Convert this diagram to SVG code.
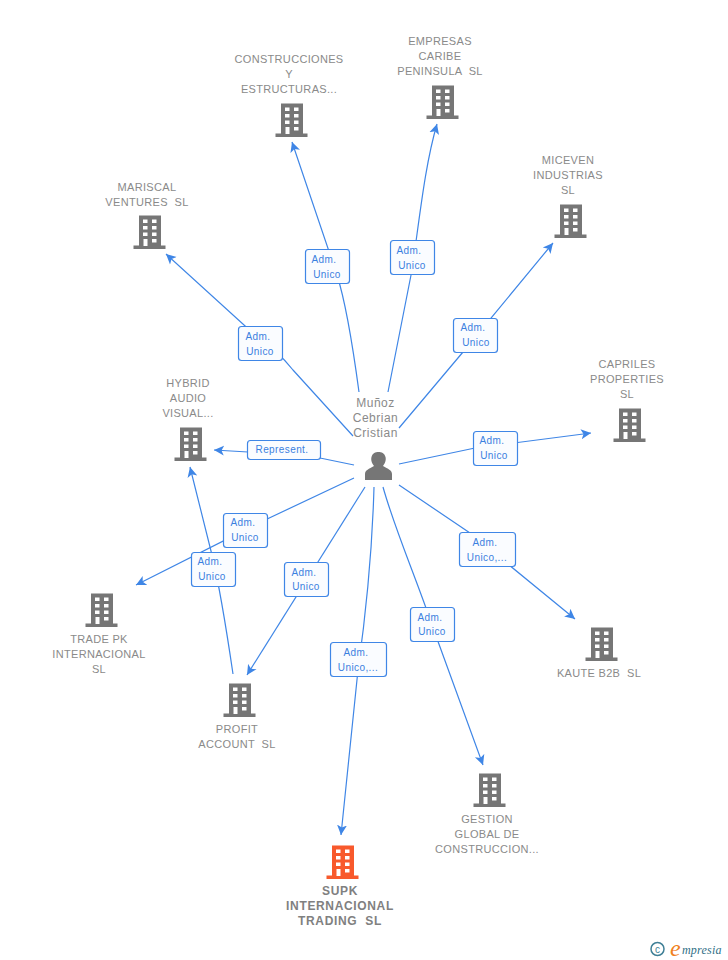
<svg xmlns="http://www.w3.org/2000/svg" width="728" height="960" viewBox="0 0 728 960">
<style>
text{font-family:"Liberation Sans",Arial,sans-serif}
.n{font-size:11px;fill:#8a8a8a;text-anchor:middle;letter-spacing:.32px}
.p{font-size:12px;fill:#8a8a8a;text-anchor:middle;letter-spacing:.5px}
.s{font-size:12px;font-weight:bold;fill:#808080;text-anchor:middle;letter-spacing:.65px}
.l{font-size:10px;fill:#3a80e0;text-anchor:middle;letter-spacing:.4px}
.b{fill:#fafcff;stroke:#3f86e6;stroke-width:1.2}
.c{fill:none;stroke:#3f86e6;stroke-width:1.2}
.g{fill:#767676}.o{fill:#f8592c}.w{fill:#fff}
</style>
<defs>
<marker id="a" viewBox="0 0 12 12" markerWidth="12" markerHeight="12" refX="10" refY="6" orient="auto" markerUnits="userSpaceOnUse"><path d="M10 6L0 1L2.500 6L0 11Z" fill="#3f86e6"/></marker>
<g id="h"><path d="M-10.500 0H11.500V30H16V33.500H-16V30H-10.500Z"/><path class="w" d="M-6.500 4h4.500v3.500h-4.500zM2.500 4h4.500v3.500h-4.500zM-6.500 10.500h4.500v3.500h-4.500zM2.500 10.500h4.500v3.500h-4.500zM-6.500 17h4.500v3.500h-4.500zM2.500 17h4.500v3.500h-4.500zM2.500 23.500h4.500v3.500h-4.500zM-6 23.500h4v7h-4z"/></g>
</defs>
<g id="connectors">
<path class="c" marker-end="url(#a)" d="M359 392C352 340 345 300 337 275L292 142"/>
<path class="c" marker-end="url(#a)" d="M388 392L412 270C420 215 425 165 437 124"/>
<path class="c" marker-end="url(#a)" d="M399 428L463 352L553 243"/>
<path class="c" marker-end="url(#a)" d="M353 436L293 370C285 360 270 345 255 335L166 254"/>
<path class="c" marker-end="url(#a)" d="M399 464L475 448L591 433"/>
<path class="c" d="M354 465L320 458"/>
<path class="c" marker-end="url(#a)" d="M248 452L214 450"/>
<path class="c" marker-end="url(#a)" d="M354 478L265 520L136 585"/>
<path class="c" marker-end="url(#a)" d="M365 487L247 675"/>
<path class="c" marker-end="url(#a)" d="M374 487C372 560 365 620 358 670L341 835"/>
<path class="c" marker-end="url(#a)" d="M383 487C395 530 415 575 432 625L483 765"/>
<path class="c" marker-end="url(#a)" d="M399 485L470 533L575 619"/>
<path class="c" marker-end="url(#a)" d="M233 674C228 640 218 580 212 555L190 467"/>
</g>
<g id="labels">
<g><rect class="b" x="305.500" y="249.500" width="44" height="34" rx="3"/><text class="l" x="324" y="263">Adm.</text><text class="l" x="327" y="278">Unico</text></g>
<g><rect class="b" x="390.500" y="240.500" width="44" height="34" rx="3"/><text class="l" x="409" y="254">Adm.</text><text class="l" x="412" y="269">Unico</text></g>
<g><rect class="b" x="453.500" y="318.500" width="44" height="34" rx="3"/><text class="l" x="473" y="331">Adm.</text><text class="l" x="476" y="346">Unico</text></g>
<g><rect class="b" x="238.500" y="326.500" width="44" height="34" rx="3"/><text class="l" x="258" y="340">Adm.</text><text class="l" x="260" y="355">Unico</text></g>
<g><rect class="b" x="473.500" y="431.500" width="44" height="34" rx="3"/><text class="l" x="492" y="444">Adm.</text><text class="l" x="494" y="459">Unico</text></g>
<g><rect class="b" x="247.500" y="440.500" width="73" height="19" rx="3"/><text class="l" x="282" y="453">Represent.</text></g>
<g><rect class="b" x="223.500" y="513.500" width="44" height="34" rx="3"/><text class="l" x="243" y="526">Adm.</text><text class="l" x="245" y="541">Unico</text></g>
<g><rect class="b" x="191.500" y="552.500" width="44" height="34" rx="3"/><text class="l" x="210" y="565">Adm.</text><text class="l" x="212" y="580">Unico</text></g>
<g><rect class="b" x="284.500" y="562.500" width="44" height="34" rx="3"/><text class="l" x="304" y="576">Adm.</text><text class="l" x="306" y="590">Unico</text></g>
<g><rect class="b" x="330.500" y="642.500" width="56" height="34" rx="3"/><text class="l" x="356" y="656">Adm.</text><text class="l" x="358" y="671">Unico,...</text></g>
<g><rect class="b" x="410.500" y="607.500" width="44" height="34" rx="3"/><text class="l" x="430" y="621">Adm.</text><text class="l" x="432" y="635">Unico</text></g>
<g><rect class="b" x="459.500" y="532.500" width="56" height="34" rx="3"/><text class="l" x="485" y="546">Adm.</text><text class="l" x="487" y="561">Unico,...</text></g>
</g>
<g id="person">
<text class="p" x="375.500" y="407">Muñoz</text><text class="p" x="375.500" y="422">Cebrian</text><text class="p" x="375.500" y="437">Cristian</text>
<path class="g" d="M365 480V474C365 470 369 469 374 466C371 462 371 459 371.500 457C372.500 453 375.500 452 378.500 452C381.500 452 384.500 453 385.500 457C386 459 386 462 383 466C388 469 392 470 392 474V480Z"/>
</g>
<g id="construcciones"><text class="n" x="289" y="63">CONSTRUCCIONES</text><text class="n" x="289" y="78">Y</text><text class="n" x="289" y="93">ESTRUCTURAS...</text><use href="#h" class="g" x="291.500" y="103.500"/></g>
<g id="empresas"><text class="n" x="440" y="45">EMPRESAS</text><text class="n" x="440" y="60">CARIBE</text><text class="n" x="440" y="75" xml:space="preserve">PENINSULA  SL</text><use href="#h" class="g" x="442.500" y="85.500"/></g>
<g id="miceven"><text class="n" x="568" y="164">MICEVEN</text><text class="n" x="568" y="179">INDUSTRIAS</text><text class="n" x="568" y="194">SL</text><use href="#h" class="g" x="570.500" y="204.500"/></g>
<g id="mariscal"><text class="n" x="147" y="191">MARISCAL</text><text class="n" x="147" y="206" xml:space="preserve">VENTURES  SL</text><use href="#h" class="g" x="149.500" y="215.500"/></g>
<g id="capriles"><text class="n" x="627" y="368">CAPRILES</text><text class="n" x="627" y="383">PROPERTIES</text><text class="n" x="627" y="398">SL</text><use href="#h" class="g" x="629.500" y="408.500"/></g>
<g id="hybrid"><text class="n" x="188" y="387">HYBRID</text><text class="n" x="188" y="402">AUDIO</text><text class="n" x="188" y="417">VISUAL...</text><use href="#h" class="g" x="190.500" y="427.500"/></g>
<g id="trade"><use href="#h" class="g" x="101.500" y="593.500"/><text class="n" x="99" y="643">TRADE PK</text><text class="n" x="99" y="658">INTERNACIONAL</text><text class="n" x="99" y="673">SL</text></g>
<g id="profit"><use href="#h" class="g" x="239.500" y="683.500"/><text class="n" x="237" y="733">PROFIT</text><text class="n" x="237" y="748" xml:space="preserve">ACCOUNT  SL</text></g>
<g id="kaute"><use href="#h" class="g" x="601.500" y="627.500"/><text class="n" x="599" y="677" xml:space="preserve">KAUTE B2B  SL</text></g>
<g id="gestion"><use href="#h" class="g" x="489.500" y="773.500"/><text class="n" x="487" y="823">GESTION</text><text class="n" x="487" y="838">GLOBAL DE</text><text class="n" x="487" y="853">CONSTRUCCION...</text></g>
<g id="supk"><use href="#h" class="o" x="342.500" y="845.500"/><text class="s" x="340" y="895">SUPK</text><text class="s" x="340" y="910">INTERNACIONAL</text><text class="s" x="340" y="925" xml:space="preserve">TRADING  SL</text></g>
<g id="brand"><circle cx="657.500" cy="949" r="6.500" fill="none" stroke="#3f7f96" stroke-width="1.500"/><text x="657.500" y="952.500" font-size="10" fill="#3f7f96" text-anchor="middle">c</text><text x="670" y="956" font-size="24" font-style="italic" fill="#f08020" style="font-family:'Liberation Serif',serif">e</text><text x="682" y="954" font-size="12" font-style="italic" fill="#2f6f86" letter-spacing=".2" style="font-family:'Liberation Serif',serif">mpresia</text></g>
</svg>
